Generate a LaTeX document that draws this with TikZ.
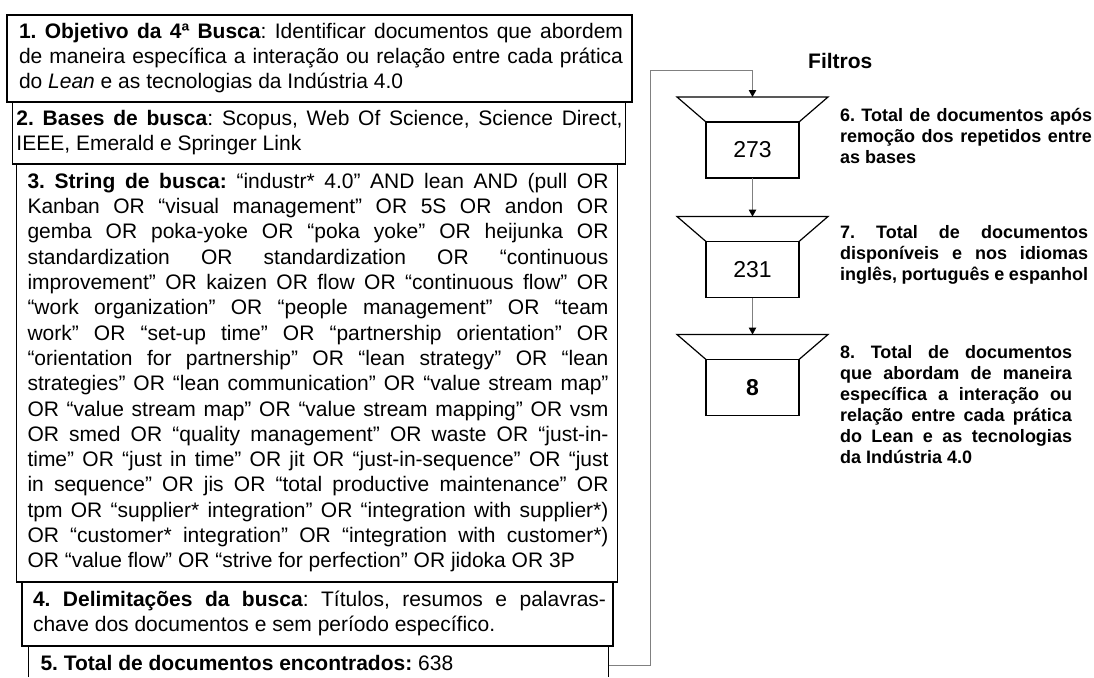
\documentclass[tikz,border=0pt]{standalone}
\usepackage{fontspec}
\setmainfont{Liberation Sans}
\usetikzlibrary{calc,arrows.meta}

% padding inside the text boxes and one-line helpers (justified / last line)
\newlength\lpad
\newlength\rpad
\newcommand\justln[1]{\hbox to\hsize{\hskip\lpad\strut#1\hskip\rpad}}
\newcommand\lastln[1]{\hbox to\hsize{\hskip\lpad\strut#1\hfil\hskip\rpad}}
% a block of lines of the given width, baseline on its first line
\newcommand\textblock[2]{\vtop{\hsize=#1\relax\frenchspacing#2}}

\definecolor{linkgray}{RGB}{128,128,128}

\begin{document}
\begin{tikzpicture}[x=1pt,y=-1pt,
  stepbox/.style={draw, line width=1.2pt, inner sep=0pt, outer sep=0pt,
    anchor=north west, font=\fontsize{21}{25.3}\selectfont},
  pads/.style 2 args={execute at begin node={\setlength\lpad{#1pt}\setlength\rpad{#2pt}}},
  note/.style={inner sep=0pt, outer sep=0pt, anchor=base west,
    font=\fontsize{18}{21}\selectfont\bfseries, pads={0}{0}},
  numbox/.style={draw, line width=1.2pt, minimum width=93pt, minimum height=56pt,
    inner sep=0pt, outer sep=0pt, font=\fontsize{23}{27}\selectfont},
  funnel/.style={draw, line width=1.2pt, line join=miter},
  link/.style={draw=linkgray, line width=1pt},
  flow/.style={link, -{Triangle[width=7.5pt,length=7pt,color=black]}}
]
\path[use as bounding box, fill=white] (0,0) rectangle (1094,677);
\coordinate (pagebot) at (0,677);

% search protocol, steps 1 to 5
\node[stepbox, minimum height=87pt, pads={12}{9}] (b1) at (7,15) {\textblock{625pt}{%
  \justln{\textbf{1. Objetivo da 4ª Busca}: Identificar documentos que abordem}
  \justln{de maneira específica a interação ou relação entre cada prática}
  \lastln{do \textit{Lean} e as tecnologias da Indústria 4.0}}};

\node[stepbox, minimum height=62pt, pads={4}{3}] (b2) at (12.5,102) {\textblock{613pt}{%
  \justln{\textbf{2. Bases de busca}: Scopus, Web Of Science, Science Direct,}
  \lastln{IEEE, Emerald e Springer Link}}};

\node[stepbox, minimum height=418pt, pads={11}{9}] (b3) at (16.5,164) {\textblock{601pt}{%
  \justln{\textbf{3. String de busca:} “industr* 4.0” AND lean AND (pull OR}
  \justln{Kanban OR “visual management” OR 5S OR andon OR}
  \justln{gemba OR poka-yoke OR “poka yoke” OR heijunka OR}
  \justln{standardization OR standardization OR “continuous}
  \justln{improvement” OR kaizen OR flow OR “continuous flow” OR}
  \justln{“work organization” OR “people management” OR “team}
  \justln{work” OR “set-up time” OR “partnership orientation” OR}
  \justln{“orientation for partnership” OR “lean strategy” OR “lean}
  \justln{strategies” OR “lean communication” OR “value stream map”}
  \justln{OR “value stream map” OR “value stream mapping” OR vsm}
  \justln{OR smed OR “quality management” OR waste OR “just-in-}
  \justln{time” OR “just in time” OR jit OR “just-in-sequence” OR “just}
  \justln{in sequence” OR jis OR “total productive maintenance” OR}
  \justln{tpm OR “supplier* integration” OR “integration with supplier*)}
  \justln{OR “customer* integration” OR “integration with customer*)}
  \lastln{OR “value flow” OR “strive for perfection” OR jidoka OR 3P}}};

\node[stepbox, minimum height=64pt, pads={11}{7}] (b4) at (22,582) {\textblock{591pt}{%
  \justln{\textbf{4. Delimitações da busca}: Títulos, resumos e palavras-}
  \lastln{chave dos documentos e sem período específico.}}};

\node[stepbox, draw=none, minimum height=38pt, pads={12}{0}] (b5) at (28.5,646) {\textblock{580pt}{%
  \lastln{\textbf{5. Total de documentos encontrados:} 638}}};
\draw[line width=1.2pt] (b5.north west |- pagebot) -- (b5.north west)
  -- (b5.north east) -- (b5.north east |- pagebot);

% filters
\node[font=\fontsize{21}{25}\selectfont\bfseries, anchor=base west, inner sep=0pt] (ftitle) at (808,68) {Filtros};

\node[numbox] (r1) at (752.5,150) {273};
\node[numbox] (r2) at (752.5,269.5) {231};
\node[numbox, font=\fontsize{23}{27}\selectfont\bfseries] (r3) at (752.5,387.5) {8};

% funnel mouths sitting on top of each count box
\foreach \r/\t in {r1/t1, r2/t2, r3/t3} {
  \coordinate (\t) at ($(\r.north)+(0,-25)$);
  \draw[funnel] (\r.north west) -- ++(-29,-25) -- ++(151,0) -- (\r.north east);
}

\node[note] (n6) at (840,121) {\textblock{252pt}{%
  \justln{6. Total de documentos após}
  \justln{remoção dos repetidos entre}
  \lastln{as bases}}};
\node[note] (n7) at (840,238.5) {\textblock{248pt}{%
  \justln{7. Total de documentos}
  \justln{disponíveis e nos idiomas}
  \lastln{inglês, português e espanhol}}};
\node[note] (n8) at (840,358) {\textblock{232pt}{%
  \justln{8. Total de documentos}
  \justln{que abordam de maneira}
  \justln{específica a interação ou}
  \justln{relação entre cada prática}
  \justln{do Lean e as tecnologias}
  \lastln{da Indústria 4.0}}};

% connectors
\coordinate (bend) at (650.5,70.7);
\draw[flow] (b5.east) -| (bend) -| (t1);
\draw[flow] (r1.south) -- (t2);
\draw[flow] (r2.south) -- (t3);
\end{tikzpicture}
\end{document}
